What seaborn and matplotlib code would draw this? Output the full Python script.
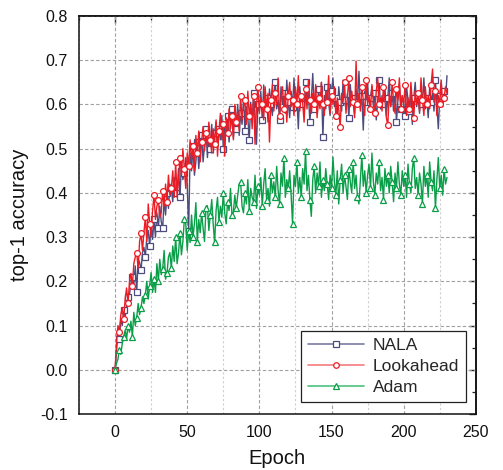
import numpy as np
import pandas as pd
import matplotlib
matplotlib.use("Agg")
import matplotlib.pyplot as plt
from matplotlib.lines import Line2D
from matplotlib.ticker import MultipleLocator
import seaborn as sns

epochs = list(range(0, 231))

nala = [
    0.000, 0.040, 0.085, 0.070, 0.115, 0.100, 0.135, 0.120, 0.142, 0.165,
    0.170, 0.195, 0.210, 0.190, 0.235, 0.175, 0.250, 0.243, 0.225, 0.265,
    0.277, 0.255, 0.300, 0.315, 0.280, 0.330, 0.295, 0.340, 0.300, 0.355,
    0.320, 0.370, 0.335, 0.320, 0.385, 0.350, 0.400, 0.365, 0.420, 0.410,
    0.380, 0.435, 0.400, 0.405, 0.455, 0.390, 0.470, 0.430, 0.445, 0.480,
    0.420, 0.314, 0.490, 0.450, 0.505, 0.440, 0.470, 0.515, 0.455, 0.500,
    0.530, 0.470, 0.510, 0.545, 0.480, 0.525, 0.500, 0.555, 0.490, 0.535,
    0.560, 0.505, 0.545, 0.520, 0.575, 0.500, 0.550, 0.530, 0.574, 0.515,
    0.560, 0.590, 0.525, 0.570, 0.545, 0.600, 0.530, 0.580, 0.555, 0.610,
    0.540, 0.595, 0.570, 0.520, 0.605, 0.560, 0.625, 0.575, 0.510, 0.600,
    0.585, 0.630, 0.565, 0.644, 0.590, 0.615, 0.560, 0.635, 0.600, 0.575,
    0.620, 0.650, 0.590, 0.610, 0.565, 0.640, 0.600, 0.625, 0.580, 0.655,
    0.605, 0.570, 0.630, 0.595, 0.660, 0.585, 0.615, 0.545, 0.640, 0.600,
    0.620, 0.575, 0.650, 0.600, 0.625, 0.560, 0.610, 0.670, 0.590, 0.615,
    0.580, 0.635, 0.600, 0.650, 0.527, 0.620, 0.590, 0.640, 0.605, 0.575,
    0.630, 0.660, 0.595, 0.615, 0.570, 0.640, 0.605, 0.585, 0.655, 0.610,
    0.590, 0.625, 0.570, 0.645, 0.600, 0.615, 0.580, 0.635, 0.605, 0.675,
    0.595, 0.620, 0.542, 0.630, 0.605, 0.650, 0.585, 0.615, 0.640, 0.595,
    0.625, 0.565, 0.610, 0.655, 0.590, 0.620, 0.600, 0.640, 0.575, 0.615,
    0.660, 0.595, 0.625, 0.585, 0.635, 0.560, 0.610, 0.645, 0.590, 0.620,
    0.600, 0.575, 0.640, 0.610, 0.585, 0.630, 0.555, 0.615, 0.650, 0.595,
    0.620, 0.580, 0.635, 0.600, 0.660, 0.590, 0.615, 0.570, 0.640, 0.605,
    0.625, 0.585, 0.655, 0.600, 0.545, 0.620, 0.650, 0.595, 0.630, 0.610,
    0.665,
]

lookahead = [
    0.000, 0.060, 0.100, 0.085, 0.125, 0.140, 0.115, 0.160, 0.185, 0.150,
    0.200, 0.218, 0.190, 0.240, 0.255, 0.265, 0.230, 0.290, 0.310, 0.270,
    0.310, 0.345, 0.290, 0.375, 0.330, 0.300, 0.360, 0.395, 0.340, 0.370,
    0.384, 0.345, 0.355, 0.405, 0.370, 0.420, 0.380, 0.440, 0.395, 0.410,
    0.450, 0.390, 0.470, 0.390, 0.430, 0.480, 0.440, 0.500, 0.455, 0.410,
    0.490, 0.460, 0.520, 0.475, 0.505, 0.450, 0.530, 0.490, 0.540, 0.470,
    0.515, 0.550, 0.495, 0.535, 0.505, 0.560, 0.520, 0.490, 0.545, 0.510,
    0.565, 0.483, 0.540, 0.580, 0.520, 0.555, 0.483, 0.570, 0.535, 0.590,
    0.545, 0.575, 0.520, 0.600, 0.560, 0.585, 0.540, 0.620, 0.565, 0.595,
    0.610, 0.555, 0.630, 0.575, 0.600, 0.545, 0.620, 0.510, 0.595, 0.640,
    0.580, 0.615, 0.600, 0.565, 0.640, 0.590, 0.625, 0.515, 0.610, 0.645,
    0.585, 0.625, 0.600, 0.660, 0.575, 0.615, 0.640, 0.590, 0.630, 0.560,
    0.620, 0.650, 0.595, 0.610, 0.575, 0.640, 0.600, 0.665, 0.585, 0.620,
    0.605, 0.560, 0.635, 0.590, 0.655, 0.610, 0.580, 0.625, 0.600, 0.645,
    0.570, 0.615, 0.590, 0.650, 0.600, 0.575, 0.630, 0.605, 0.665, 0.580,
    0.620, 0.600, 0.640, 0.575, 0.615, 0.590, 0.549, 0.625, 0.605, 0.650,
    0.580, 0.615, 0.660, 0.595, 0.630, 0.605, 0.570, 0.698, 0.600, 0.625,
    0.585, 0.640, 0.610, 0.575, 0.655, 0.600, 0.620, 0.590, 0.645, 0.605,
    0.580, 0.630, 0.660, 0.600, 0.615, 0.585, 0.640, 0.610, 0.570, 0.553,
    0.625, 0.595, 0.650, 0.605, 0.580, 0.635, 0.610, 0.660, 0.590, 0.620,
    0.600, 0.645, 0.575, 0.615, 0.590, 0.650, 0.605, 0.570, 0.630, 0.600,
    0.625, 0.585, 0.660, 0.610, 0.575, 0.640, 0.600, 0.620, 0.590, 0.645,
    0.680, 0.605, 0.630, 0.575, 0.620, 0.600, 0.655, 0.595, 0.615, 0.640,
    0.625,
]

adam = [
    0.000, 0.015, 0.024, 0.045, 0.035, 0.060, 0.075, 0.090, 0.070, 0.100,
    0.085, 0.110, 0.075, 0.130, 0.100, 0.118, 0.150, 0.125, 0.140, 0.165,
    0.150, 0.170, 0.200, 0.160, 0.190, 0.220, 0.175, 0.205, 0.175, 0.240,
    0.200, 0.250, 0.215, 0.228, 0.270, 0.205, 0.218, 0.255, 0.265, 0.230,
    0.280, 0.245, 0.300, 0.240, 0.265, 0.310, 0.260, 0.290, 0.340, 0.330,
    0.270, 0.315, 0.288, 0.350, 0.300, 0.330, 0.378, 0.290, 0.340, 0.310,
    0.355, 0.320, 0.290, 0.365, 0.371, 0.315, 0.350, 0.385, 0.330, 0.288,
    0.360, 0.390, 0.335, 0.370, 0.345, 0.400, 0.355, 0.330, 0.380, 0.360,
    0.410, 0.350, 0.357, 0.395, 0.365, 0.395, 0.420, 0.425, 0.370, 0.355,
    0.400, 0.375, 0.430, 0.360, 0.410, 0.390, 0.380, 0.440, 0.365, 0.415,
    0.395, 0.435, 0.370, 0.420, 0.455, 0.385, 0.410, 0.370, 0.440, 0.400,
    0.425, 0.390, 0.460, 0.405, 0.375, 0.445, 0.415, 0.480, 0.390, 0.430,
    0.410, 0.450, 0.395, 0.330, 0.440, 0.415, 0.470, 0.400, 0.435, 0.390,
    0.455, 0.420, 0.495, 0.405, 0.440, 0.385, 0.347, 0.430, 0.460, 0.400,
    0.445, 0.415, 0.470, 0.390, 0.430, 0.405, 0.455, 0.420, 0.385, 0.440,
    0.410, 0.481, 0.425, 0.395, 0.450, 0.375, 0.430, 0.465, 0.400, 0.440,
    0.415, 0.385, 0.455, 0.425, 0.400, 0.470, 0.410, 0.440, 0.390, 0.375,
    0.430, 0.485, 0.415, 0.450, 0.400, 0.440, 0.465, 0.410, 0.490, 0.425,
    0.395, 0.445, 0.420, 0.470, 0.405, 0.435, 0.385, 0.455, 0.415, 0.440,
    0.400, 0.460, 0.425, 0.380, 0.445, 0.410, 0.470, 0.420, 0.395, 0.450,
    0.415, 0.440, 0.390, 0.465, 0.420, 0.400, 0.455, 0.480, 0.410, 0.435,
    0.395, 0.445, 0.420, 0.375, 0.460, 0.415, 0.440, 0.390, 0.470, 0.425,
    0.405, 0.450, 0.365, 0.430, 0.480, 0.410, 0.440, 0.395, 0.455, 0.420,
    0.435,
]

series_names = ["NALA", "Lookahead", "Adam"]
x_ticks = [0, 50, 100, 150, 200, 250]
y_ticks = [-0.1, 0.0, 0.1, 0.2, 0.3, 0.4, 0.5, 0.6, 0.7, 0.8]

sns.set_theme(style="white")
plt.rcParams["font.family"] = ["Liberation Sans", "DejaVu Sans"]

colors = {"NALA": "#4c4c7e", "Lookahead": "#ec1c24", "Adam": "#0a9e48"}
legend_colors = {"NALA": "#7a7aa6", "Lookahead": "#f47a80", "Adam": "#4cc07e"}
markers = {"NALA": "s", "Lookahead": "o", "Adam": "^"}

fig = plt.figure(figsize=(5.03, 4.70), dpi=100)
ax = fig.add_axes([0.157, 0.119, 0.789, 0.847])

data = {"NALA": nala, "Lookahead": lookahead, "Adam": adam}
for name in series_names:
    df = pd.DataFrame({"Epoch": epochs, "acc": data[name]})
    sns.lineplot(data=df, x="Epoch", y="acc", ax=ax, color=colors[name],
                 lw=1.0, marker=markers[name], markersize=4.2,
                 markerfacecolor="white", markeredgecolor=colors[name],
                 markeredgewidth=0.9, markevery=3, estimator=None,
                 legend=False)

ax.set_xlim(-25, 250)
ax.set_ylim(-0.1, 0.8)
ax.set_xticks(x_ticks)
ax.set_yticks(y_ticks)
ax.set_yticklabels([f"{v:.1f}" for v in y_ticks])
ax.xaxis.set_minor_locator(MultipleLocator(25))
ax.yaxis.set_minor_locator(MultipleLocator(0.05))

ax.grid(which="major", axis="both", color="#a0a0a0", ls=(0, (3, 2)), lw=0.8)
ax.grid(which="minor", axis="x", color="#cfcfcf", ls=(0, (2, 2)), lw=0.8)
ax.set_axisbelow(True)

for s in ax.spines.values():
    s.set_color("#111111")
    s.set_linewidth(1.1)

ax.tick_params(which="major", direction="out", length=5, width=1.0,
               labelsize=11.5, colors="#111111", pad=3)
ax.tick_params(which="minor", direction="out", length=3, width=0.9)

top = ax.secondary_xaxis("top")
top.set_xticks(x_ticks)
top.xaxis.set_minor_locator(MultipleLocator(25))
top.tick_params(which="major", direction="in", length=5, width=1.0, labeltop=False)
top.tick_params(which="minor", direction="in", length=3, width=0.9)
right = ax.secondary_yaxis("right")
right.set_yticks(y_ticks)
right.yaxis.set_minor_locator(MultipleLocator(0.05))
right.tick_params(which="major", direction="in", length=5, width=1.0, labelright=False)
right.tick_params(which="minor", direction="in", length=3, width=0.9)

ax.set_xlabel("Epoch", fontsize=14.5, color="#111111", labelpad=6)
ax.set_ylabel("top-1 accuracy", fontsize=14.5, color="#111111", labelpad=8)

handles = [Line2D([0], [0], color=legend_colors[n], lw=1.2, marker=markers[n],
                  markersize=4, markerfacecolor="white",
                  markeredgecolor=colors[n], markeredgewidth=0.9)
           for n in series_names]
leg = ax.legend(handles, series_names, loc="lower right",
                bbox_to_anchor=(0.975, 0.03), borderaxespad=0,
                fontsize=12.5, frameon=True, fancybox=False,
                edgecolor="#222222", framealpha=1, handlelength=3.2,
                handletextpad=0.5, labelspacing=0.35, borderpad=0.4)
leg.get_frame().set_linewidth(0.9)

fig.savefig("out.png", dpi=100)
